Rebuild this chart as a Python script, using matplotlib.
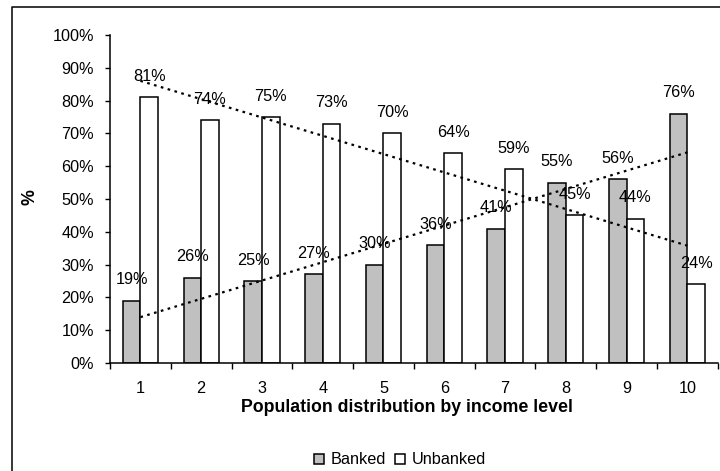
import numpy as np
import matplotlib
matplotlib.use("Agg")
import matplotlib.pyplot as plt
from matplotlib.lines import Line2D
from matplotlib.ticker import PercentFormatter

plt.rcParams['font.family'] = ['Liberation Sans', 'DejaVu Sans']

# Income deciles and share of population (%)
categories = [1, 2, 3, 4, 5, 6, 7, 8, 9, 10]
banked = [19, 26, 25, 27, 30, 36, 41, 55, 56, 76]
unbanked = [81, 74, 75, 73, 70, 64, 59, 45, 44, 24]
y_ticks = [0, 10, 20, 30, 40, 50, 60, 70, 80, 90, 100]

W, H = 720, 471
fig = plt.figure(figsize=(W / 100, H / 100), dpi=100)
ax = fig.add_axes([110 / W, 1 - 363 / H, (717.7 - 110) / W, (363 - 35) / H])

x = np.array(categories, dtype=float)
bw = 0.29
fs = 11.7

ax.bar(x - bw / 2, banked, width=bw, color='#c0c0c0', edgecolor='black',
       linewidth=1.1, label='Banked', zorder=2)
ax.bar(x + bw / 2, unbanked, width=bw, color='white', edgecolor='black',
       linewidth=1.1, label='Unbanked', zorder=2)

# value labels above each bar
for xi, b, u in zip(x, banked, unbanked):
    ax.annotate(f"{b}%", (xi - bw / 2, b), xytext=(0, 15), textcoords='offset points',
                ha='center', va='center', fontsize=fs, zorder=4)
    ax.annotate(f"{u}%", (xi + bw / 2, u), xytext=(0, 15), textcoords='offset points',
                ha='center', va='center', fontsize=fs, zorder=4)

# linear trend lines for each series
for series in (banked, unbanked):
    k, c = np.polyfit(x, series, 1)
    xs = np.array([x[0], x[-1]])
    ax.plot(xs, k * xs + c, color='black', linewidth=1.6,
            linestyle=(0, (1.2, 2.0)), zorder=3)

ax.set_xlim(0.5, 10.5)
ax.set_ylim(0, 100)
ax.set_yticks(y_ticks)
ax.yaxis.set_major_formatter(PercentFormatter(decimals=0))
ax.set_xticks(x)
ax.set_xticks(np.arange(0.5, 11, 1), minor=True)
ax.tick_params(axis='x', which='major', length=0, pad=13, labelsize=fs)
ax.tick_params(axis='x', which='minor', length=4, width=1, direction='out')
ax.tick_params(axis='y', length=3.5, width=1, direction='out', pad=8, labelsize=fs)

for s in ('top', 'right'):
    ax.spines[s].set_visible(False)
for s in ('left', 'bottom'):
    ax.spines[s].set_linewidth(1.1)
    ax.spines[s].set_color('black')

fig.text(407 / W, 1 - 407 / H, "Population distribution by income level",
         ha='center', va='center', fontsize=12.8, fontweight='bold')
fig.text(30 / W, 1 - 197 / H, "%", ha='center', va='center', rotation=90,
         fontsize=12.8, fontweight='bold')

fig.legend(loc='center', bbox_to_anchor=(400 / W, 1 - 460 / H), ncol=2,
           frameon=False, fontsize=fs, handlelength=0.6, handleheight=0.6,
           handletextpad=0.4, columnspacing=0.6)

# chart area border
fig.add_artist(Line2D([12 / W, 12 / W, 1.0], [0, 1 - 7 / H, 1 - 7 / H],
                      transform=fig.transFigure, color='black', linewidth=1.1))

fig.savefig("out.png", dpi=100)
